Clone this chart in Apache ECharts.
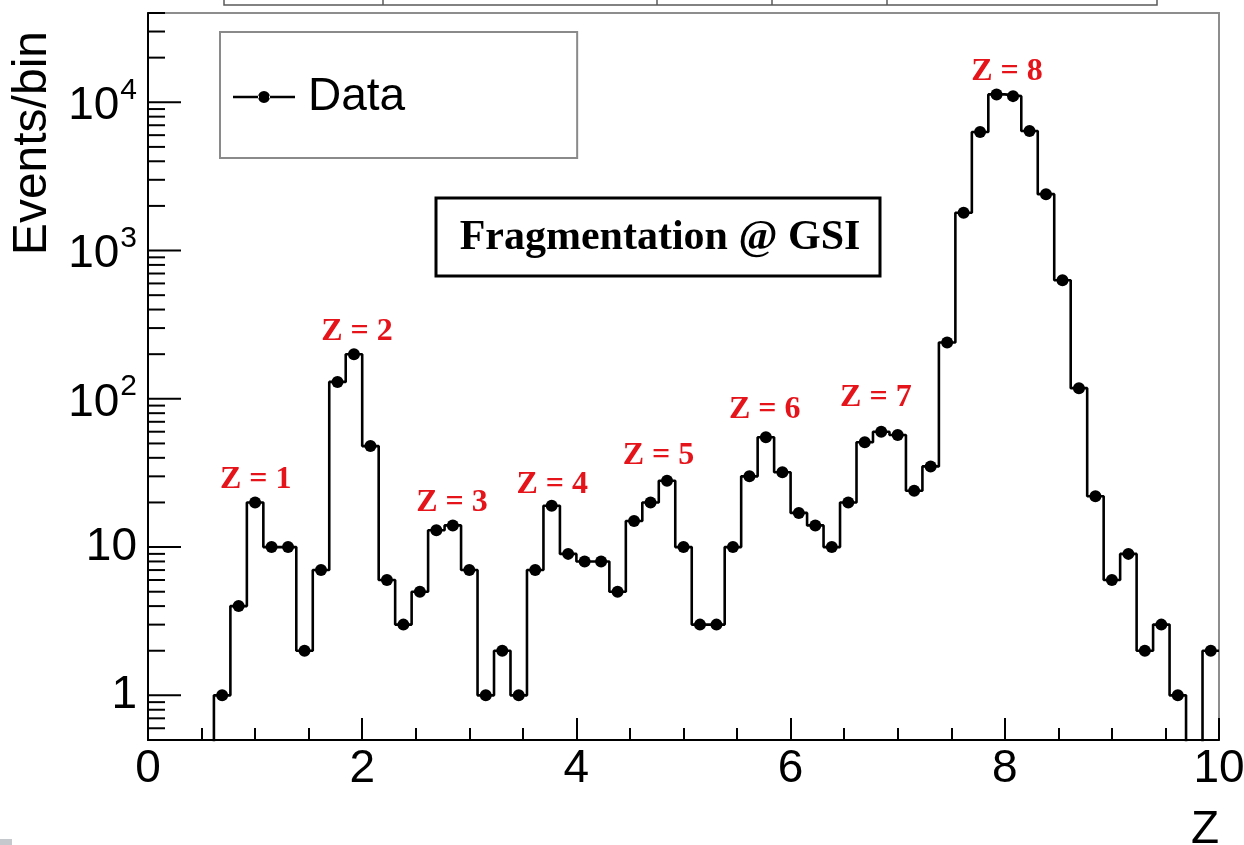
<!DOCTYPE html>
<html>
<head>
<meta charset="utf-8">
<script src="https://cdn.jsdelivr.net/npm/echarts@6/dist/echarts.min.js"></script>
<style>
  html, body { margin: 0; padding: 0; background: #fff; }
  #chart { width: 1244px; height: 845px; }
</style>
</head>
<body>
<div id="chart"></div>
<script>
// Z histogram: 65 equal bins between 0 and 10
const zMin = 0;
const zMax = 10;
const nBins = 65;

// Events per bin
const counts = [
  0, 0, 0, 0, 1, 4, 20, 10, 10, 2,
  7, 130, 200, 48, 6, 3, 5, 13, 14, 7,
  1, 2, 1, 7, 19, 9, 8, 8, 5, 15,
  20, 28, 10, 3, 3, 10, 30, 55, 32, 17,
  14, 10, 20, 51, 60, 57, 24, 35, 240, 1800,
  6300, 11300, 11000, 6400, 2400, 630, 118, 22, 6, 9,
  2, 3, 1, 0, 2
];

// Charge peak annotations (anchored in Z / events coordinates)
const peakNames = ['Z = 1', 'Z = 2', 'Z = 3', 'Z = 4', 'Z = 5', 'Z = 6', 'Z = 7', 'Z = 8'];
const peakZ = [1.006, 1.951, 2.839, 3.775, 4.766, 5.758, 6.796, 8.021];
const peakEvents = [28.6, 285, 20, 26.5, 41.5, 85, 102, 16100];

// Axis ranges and titles
const yMin = 0.5;
const yMax = 40000;
const xTickStep = 2;
const seriesName = 'Data';
const xTitle = 'Z';
const yTitle = 'Events/bin';
const boxText = 'Fragmentation @ GSI';

const binW = (zMax - zMin) / nBins;
const EMPTY = 0.01; // empty bins sit below the visible log range and are clipped

// Step outline: one point per left bin edge, plus the closing right edge
const stepData = counts.map((c, i) => [zMin + i * binW, c > 0 ? c : EMPTY]);
stepData.push([zMax, counts[nBins - 1] > 0 ? counts[nBins - 1] : EMPTY]);

// Markers at bin centres
const markerData = [];
counts.forEach((c, i) => { if (c > 0) markerData.push([zMin + (i + 0.5) * binW, c]); });

const peakData = peakNames.map((n, i) => ({ name: n, value: [peakZ[i], peakEvents[i]] }));

// Log-axis ticks: decades (long) and 2..9 sub-divisions (short)
const yTicks = [];
for (let d = -1; d <= 5; d++) {
  for (let k = 1; k <= 9; k++) {
    const v = k * Math.pow(10, d);
    if (v >= yMin && v <= yMax) yTicks.push([zMin, v, k === 1 ? 1 : 0]);
  }
}

const SANS = 'Liberation Sans';
const SERIF = 'Liberation Serif';

const chart = echarts.init(document.getElementById('chart'), null, { renderer: 'canvas' });

chart.setOption({
  animation: false,
  backgroundColor: '#fff',
  grid: {
    left: 148, right: 25, top: 13, bottom: 105,
    show: true, borderColor: '#8d8d8d', borderWidth: 2,
    outerBoundsMode: 'none'
  },
  legend: {
    data: [{
      name: seriesName,
      icon: 'path://M0,4.7H26V7.3H0Z M36,4.7H62V7.3H36Z M25,6a6,6 0 1,0 12,0a6,6 0 1,0 -12,0Z'
    }],
    left: 220, top: 32,
    padding: [42, 172, 38, 13],
    borderColor: '#8a8a8a', borderWidth: 2,
    backgroundColor: '#fff',
    itemWidth: 62, itemHeight: 12,
    selectedMode: false,
    itemStyle: { opacity: 1 },
    textStyle: { fontFamily: SANS, fontSize: 46, color: '#000', padding: [0, 0, 0, 8] }
  },
  xAxis: {
    type: 'value',
    min: zMin, max: zMax, interval: xTickStep,
    name: xTitle,
    nameLocation: 'end',
    nameGap: 0,
    nameTextStyle: {
      fontFamily: SANS, fontSize: 46, color: '#000',
      align: 'right', verticalAlign: 'top', padding: [67, 0, 0, 0]
    },
    axisLine: { show: true, onZero: false, lineStyle: { color: '#000', width: 2 } },
    axisTick: { show: true, inside: true, length: 22, lineStyle: { color: '#000', width: 2 } },
    minorTick: { show: true, splitNumber: 4, length: 12, lineStyle: { color: '#000', width: 2 } },
    axisLabel: { fontFamily: SANS, fontSize: 46, color: '#000', margin: 6 },
    splitLine: { show: false },
    minorSplitLine: { show: false }
  },
  yAxis: {
    type: 'log',
    logBase: 10,
    min: yMin, max: yMax,
    axisLine: { show: true, lineStyle: { color: '#000', width: 2 } },
    axisTick: { show: false },
    splitLine: { show: false },
    axisLabel: {
      margin: 11,
      color: '#000',
      fontFamily: SANS,
      fontSize: 46,
      formatter: function (v) {
        const e = Math.log10(v);
        const r = Math.round(e);
        if (Math.abs(e - r) > 1e-6) return '';
        if (r === 0) return '{base|1}';
        if (r === 1) return '{base|10}';
        return '{base|10}{sup|' + r + '}';
      },
      rich: {
        base: { fontFamily: SANS, fontSize: 46, color: '#000', verticalAlign: 'bottom' },
        sup: { fontFamily: SANS, fontSize: 30, color: '#000', verticalAlign: 'top', padding: [0, 0, 24, 1] }
      }
    }
  },
  graphic: [
    // y-axis title
    {
      type: 'text', x: 33, y: 31, rotation: Math.PI / 2,
      style: {
        text: yTitle, fill: '#000',
        font: '48px "Liberation Sans"',
        textAlign: 'right', textVerticalAlign: 'middle'
      }
    },
    // labelled box
    {
      type: 'rect', shape: { x: 436, y: 198, width: 444, height: 78 },
      style: { fill: '#fff', stroke: '#000', lineWidth: 3 }, z: 10
    },
    {
      type: 'text', x: 660, y: 238, z: 11,
      style: {
        text: boxText, fill: '#000',
        font: 'bold 42px "Liberation Serif"',
        textAlign: 'center', textVerticalAlign: 'middle'
      }
    },
    // table strip along the top edge
    {
      type: 'group', z: 5,
      children: [
        { type: 'rect', shape: { x: 224, y: -4, width: 933, height: 9 }, style: { fill: 'none', stroke: '#5a5a5a', lineWidth: 1.5 } },
        { type: 'line', shape: { x1: 383, y1: -4, x2: 383, y2: 5 }, style: { stroke: '#5a5a5a', lineWidth: 1.5 } },
        { type: 'line', shape: { x1: 657, y1: -4, x2: 657, y2: 5 }, style: { stroke: '#5a5a5a', lineWidth: 1.5 } },
        { type: 'line', shape: { x1: 772, y1: -4, x2: 772, y2: 5 }, style: { stroke: '#5a5a5a', lineWidth: 1.5 } },
        { type: 'line', shape: { x1: 887, y1: -4, x2: 887, y2: 5 }, style: { stroke: '#5a5a5a', lineWidth: 1.5 } }
      ]
    },
    {
      type: 'rect', shape: { x: 0, y: 839, width: 12, height: 6 },
      style: { fill: '#c5c9ce' }
    }
  ],
  series: [
    {
      name: 'outline',
      type: 'line',
      step: 'end',
      data: stepData,
      showSymbol: false,
      clip: true,
      silent: true,
      lineStyle: { color: '#000', width: 2.6, opacity: 1 },
      z: 2
    },
    {
      name: seriesName,
      type: 'scatter',
      data: markerData,
      symbol: 'circle',
      symbolSize: 12,
      itemStyle: { color: '#000', opacity: 1 },
      silent: true,
      z: 3
    },
    {
      name: 'peaks',
      type: 'scatter',
      data: peakData,
      symbolSize: 0,
      silent: true,
      z: 4,
      itemStyle: { opacity: 1 },
      label: {
        show: true,
        position: 'inside',
        formatter: '{b}',
        fontFamily: SERIF,
        fontWeight: 'bold',
        fontSize: 32,
        color: '#e5141b',
        opacity: 1
      }
    },
    {
      name: 'yticks',
      type: 'custom',
      data: yTicks,
      silent: true,
      clip: false,
      z: 6,
      renderItem: function (params, api) {
        const p = api.coord([api.value(0), api.value(1)]);
        const len = api.value(2) ? 33 : 17;
        return {
          type: 'line',
          shape: { x1: p[0], y1: p[1], x2: p[0] + len, y2: p[1] },
          style: { stroke: '#000', lineWidth: 2 }
        };
      }
    }
  ]
});
</script>
</body>
</html>
